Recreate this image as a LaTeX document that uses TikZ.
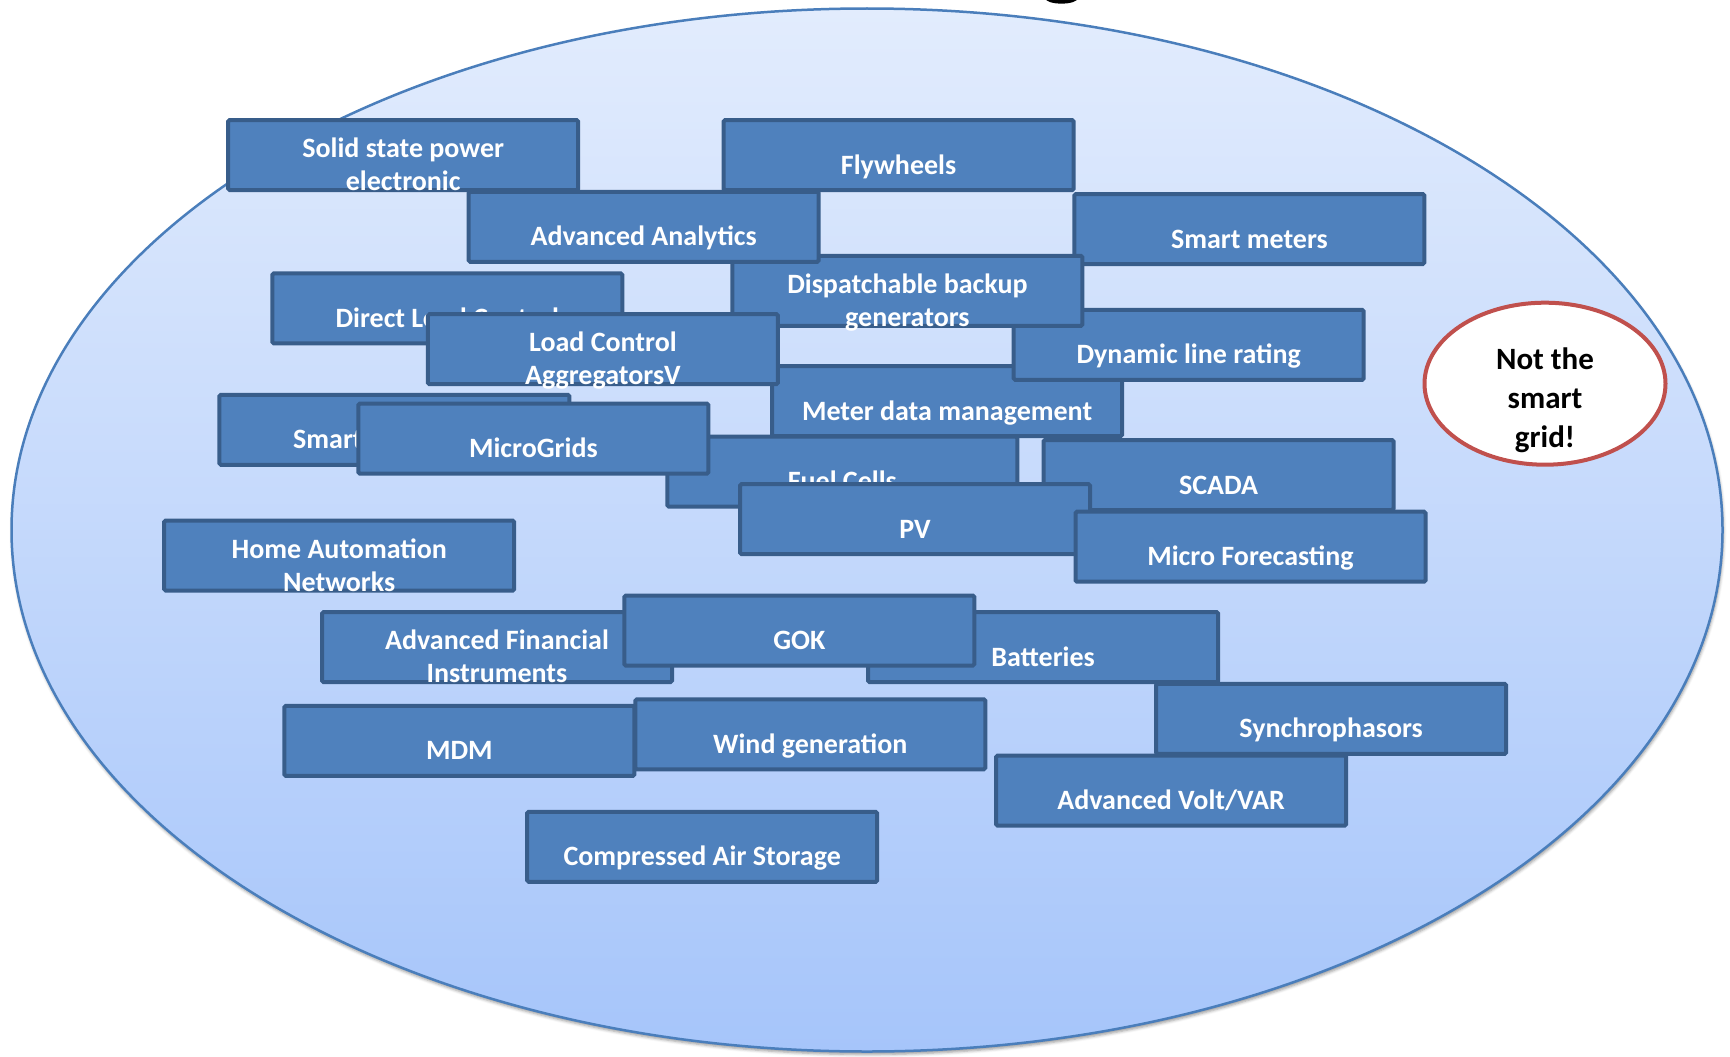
\documentclass[tikz,border=0pt]{standalone}
\usepackage{fontspec}
\setmainfont{Carlito}
\usetikzlibrary{shapes.geometric,shadows.blur}

\definecolor{boxfill}{HTML}{4F81BD}
\definecolor{boxline}{HTML}{385D8A}
\definecolor{fieldline}{HTML}{4A7EBB}
\definecolor{fieldtop}{HTML}{E2ECFD}
\definecolor{fieldbottom}{HTML}{A6C5FA}
\definecolor{ringline}{HTML}{C0504D}

% one technology box: name, top-left x, top-left y, text (one line)
\newcommand{\techone}[4]{%
  \node[tech] (#1) at (#2+177,#3+37) {};
  \node[lbl] (#1-t) at ([yshift=-19pt]#1.center) {#4};
}
% one technology box with its text on two lines
\newcommand{\techtwo}[5]{%
  \node[tech] (#1) at (#2+177,#3+37) {};
  \node[lbl] (#1-t) at ([yshift=-2.4pt]#1.center) {#4};
  \node[lbl] (#1-u) at ([yshift=-35.7pt]#1.center) {#5};
}

\begin{document}
\begin{tikzpicture}[x=1pt,y=-1pt,
  tech/.style={draw=boxline, fill=boxfill, line width=4pt, rounded corners=1.5pt,
    minimum width=350pt, minimum height=70pt, inner sep=0pt},
  lbl/.style={text=white, font=\fontsize{28}{34}\selectfont\bfseries,
    inner sep=0pt, anchor=base},
  field/.style={ellipse, draw=fieldline, line width=2.5pt,
    top color=fieldtop, bottom color=fieldbottom,
    minimum width=1711pt, minimum height=1043pt, inner sep=0pt,
    blur shadow={shadow xshift=1pt, shadow yshift=-3pt,
      shadow blur radius=3pt, shadow opacity=40}},
  ring/.style={ellipse, draw=ringline, fill=white, line width=4pt,
    minimum width=241pt, minimum height=162pt, inner sep=0pt},
  ringtext/.style={text=black, font=\fontsize{31}{39}\selectfont\bfseries,
    inner sep=0pt, anchor=base}]

\useasboundingbox (0,0) rectangle (1730,1057);

% tail of the heading letter at the top edge
\fill[black] (1045,-2) .. controls (1046,5.5) and (1077,5.5) .. (1078,-2) -- cycle;

% the large field holding all technologies
\node[field] (field) at (867,530) {};

% technology boxes, back to front
\techtwo{solid}{226.2}{118.1}{Solid state power}{electronic}
\techone{fly}{721.6}{118.1}{Flywheels}
\techone{meters}{1072.4}{192.0}{Smart meters}
\techone{direct}{270.3}{271.4}{Direct Load Control}
\techone{mdata}{770.1}{364.1}{Meter data management}
\techone{dlr}{1011.7}{307.8}{Dynamic line rating}
\techtwo{disp}{730.4}{253.8}{Dispatchable backup}{generators}
\techone{analytics}{466.7}{189.8}{Advanced Analytics}
\techtwo{lca}{425.9}{312.2}{Load Control}{AggregatorsV}
\techone{appl}{217.4}{392.8}{Smart Appliances}
\techone{fuel}{665.3}{434.7}{Fuel Cells}
\techone{micro}{356.4}{401.6}{MicroGrids}
\techone{scada}{1041.5}{438.0}{SCADA}
\techone{pv}{738.1}{482.2}{PV}
\techone{forecast}{1073.5}{509.7}{Micro Forecasting}
\techtwo{home}{162.2}{518.6}{Home Automation}{Networks}
\techtwo{fin}{320.0}{610.1}{Advanced Financial}{Instruments}
\techone{batt}{866.1}{610.1}{Batteries}
\techone{gok}{622.3}{593.6}{GOK}
\techone{mdm}{282.4}{703.9}{MDM}
\techone{wind}{633.3}{697.3}{Wind generation}
\techone{synch}{1154.1}{681.9}{Synchrophasors}
\techone{volt}{994.1}{753.6}{Advanced Volt/VAR}
\techone{cas}{525.2}{809.8}{Compressed Air Storage}

% the odd one out
\node[ring] (not) at (1545,383.7) {};
\node[ringtext] (not-a) at (1545,369) {Not the};
\node[ringtext] (not-b) at (1545,408) {smart};
\node[ringtext] (not-c) at (1545,447) {grid!};

\end{tikzpicture}
\end{document}
